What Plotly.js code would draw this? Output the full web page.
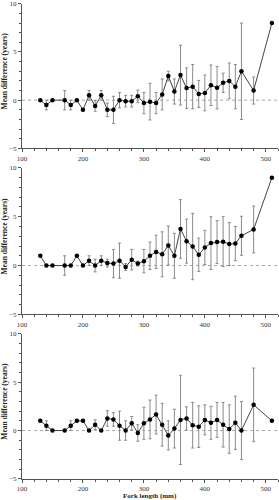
<!DOCTYPE html>
<html>
<head>
<meta charset="utf-8">
<script src="https://cdn.plot.ly/plotly-3.0.1.min.js"></script>
<style>html,body{margin:0;padding:0;background:#fff;}#chart{width:279px;height:500px;}</style>
</head>
<body>
<div id="chart"></div>
<script>
const forkLength = [130,140,150,170,180,190,200,210,220,230,240,250,260,270,280,290,300,310,320,330,340,350,360,370,380,390,400,410,420,430,440,450,460,480,510];

const meanDiff1 = [0,-0.5,0,0,-0.5,0,-1,0.5,-0.6,0.5, -1,-1,0,-0.1,-0.1,0.4,-0.3,-0.15,-0.3,0.6, 2.5,0.9,2.6,1.25,1.4,0.65,0.75,1.55,1.3,1.8, 2.0,1.4,3.0,1.0,8.0];
const err1 = [null,0.5,null,1,0.5,null,null,0.5,0.55,0.5, 0.7,1.4,0.8,0.6,0.6,0.65,1.1,1.9,1.1,1.6, 0.5,1.3,3.1,2.1,2.3,1.4,1.85,2.1,2.2,1.0, 1.85,2.3,5.0,1.4,null];

const meanDiff2 = [1,0,0,0,0,1,0,0.5,0,0.5, 0.25,0.2,0.5,-0.15,0.6,0.2,0.45,1.0,1.4,1.15, 2.05,1.0,3.75,2.5,1.95,1.1,1.85,2.3,2.4,2.45, 2.2,2.25,3.05,3.7,9.0];
const err2 = [null,null,null,1,null,null,null,0.5,0.65,0.5, 0.4,1.45,1.8,0.35,1.05,0.25,1.2,1.4,1.7,2.3, 2.0,2.3,3.0,2.25,3.4,1.7,1.75,2.7,2.2,2.55, 2.2,1.75,2.0,2.4,null];

const meanDiff3 = [1,0.5,0,0,0.5,1,1,0,0.6,0, 1.25,1.15,0.5,0,0.75,-0.25,0.75,1.15,1.65,0.6, -0.5,0.2,1.1,1.25,0.55,0.4,1.1,0.8,1.1,0.6, 0.15,0.8,0,2.65,1.0];
const err3 = [null,0.5,null,null,0.5,null,null,null,0.5,null, 0.8,0.7,1.5,1.0,0.7,0.85,1.65,2.0,2.0,2.2, 1.5,2.0,4.6,1.2,2.35,2.15,1.55,1.7,1.8,2.3, 2.5,2.75,3.0,3.8,null];

const yTitle = "Mean difference (years)";
const xTitle = "Fork length (mm)";

const series = [[meanDiff1, err1], [meanDiff2, err2], [meanDiff3, err3]];
const suffix = ['', '2', '3'];

const traces = series.map((s, i) => ({
  type: 'scatter', mode: 'lines+markers',
  x: forkLength, y: s[0],
  xaxis: 'x' + suffix[i], yaxis: 'y' + suffix[i],
  line: {color: '#444', width: 1},
  marker: {color: '#000', size: 4.5},
  error_y: {type: 'data', array: s[1], visible: true, color: '#8a8a8a', thickness: 1, width: 1.5},
  showlegend: false, cliponaxis: false
}));

const tickFont = {family: 'Liberation Serif, Times New Roman, serif', size: 7, color: '#333'};
const domains = [[0.6945, 0.9985], [0.3459, 0.6535], [0, 0.3054]];

const layout = {
  width: 279, height: 500,
  margin: {l: 22, r: 1, t: 3, b: 21},
  paper_bgcolor: '#fff', plot_bgcolor: '#fff',
  showlegend: false,
  shapes: [], annotations: []
};

domains.forEach((d, i) => {
  const xa = 'xaxis' + suffix[i], ya = 'yaxis' + suffix[i];
  layout[xa] = {
    domain: [0, 1], anchor: 'y' + suffix[i], range: [100, 520],
    tickmode: 'linear', tick0: 100, dtick: 100,
    ticks: 'outside', ticklen: 3, tickcolor: '#555', tickwidth: 1,
    minor: {tickmode: 'linear', tick0: 100, dtick: 20, ticks: 'outside', ticklen: 2, tickcolor: '#555', showgrid: false},
    showline: true, linecolor: '#555', linewidth: 1,
    showgrid: false, zeroline: false, tickfont: tickFont
  };
  layout[ya] = {
    domain: d, anchor: 'x' + suffix[i], range: [-5, 10],
    tickmode: 'linear', tick0: -5, dtick: 5,
    ticks: 'outside', ticklen: 3, tickcolor: '#555', tickwidth: 1,
    minor: {tickmode: 'linear', tick0: -5, dtick: 1, ticks: 'outside', ticklen: 2, tickcolor: '#555', showgrid: false},
    showline: true, linecolor: '#555', linewidth: 1,
    showgrid: false, zeroline: false, tickfont: tickFont
  };
  layout.shapes.push({
    type: 'line', xref: 'x' + suffix[i] + ' domain', yref: 'y' + suffix[i],
    x0: 0, x1: 1, y0: 0, y1: 0, layer: 'below',
    line: {color: '#aaa', width: 1, dash: 'dot'}
  });
  layout.annotations.push({
    text: '<b>' + yTitle + '</b>', textangle: -90,
    xref: 'paper', yref: 'paper', x: -0.07, y: (d[0] + d[1]) / 2 + 0.01,
    xanchor: 'center', yanchor: 'middle', showarrow: false,
    font: {family: 'Liberation Serif, Times New Roman, serif', size: 7.5, color: '#222'}
  });
});

layout.annotations.push({
  text: '<b>' + xTitle + '</b>',
  xref: 'paper', yref: 'paper', x: 0.5, y: 0, yshift: -11,
  xanchor: 'center', yanchor: 'top', showarrow: false,
  font: {family: 'Liberation Serif, Times New Roman, serif', size: 7, color: '#222'}
});

Plotly.newPlot('chart', traces, layout, {displayModeBar: false, staticPlot: true});
</script>
</body>
</html>
